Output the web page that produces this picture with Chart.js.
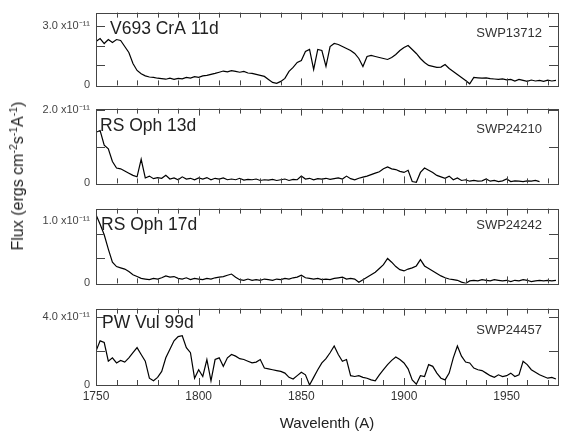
<!DOCTYPE html>
<html>
<head>
<meta charset="utf-8">
<script src="https://cdn.jsdelivr.net/npm/chart.js@4.4.0/dist/chart.umd.min.js"></script>
<style>
    html, body { margin: 0; padding: 0; background: #fff; }
    #wrap { position: relative; width: 561px; height: 436px; overflow: hidden; background: #fff; }
    #wrap canvas { position: absolute; left: 0; }
    #ytitle {
        position: absolute; left: 18px; top: 176px;
        transform: translate(-50%, -50%) rotate(-90deg);
        white-space: nowrap; color: #222;
        font: 16px "Liberation Sans", Arial, sans-serif;
    }
    #ytitle sup { font-size: 10.5px; line-height: 0; vertical-align: 6px; }
</style>
</head>
<body>
<div id="wrap">
    <canvas id="p0" width="561" height="98" style="top:0px"></canvas>
    <canvas id="p1" width="561" height="100" style="top:96px"></canvas>
    <canvas id="p2" width="561" height="100" style="top:196px"></canvas>
    <canvas id="p3" width="561" height="140" style="top:296px"></canvas>
    <div id="ytitle">Flux (ergs cm<sup>-2</sup>s<sup>-1</sup>A<sup>-1</sup>)</div>
</div>
<script>
// --- Data (flux in units of 1e-11) ---
const wavelength = [
    1750, 1752, 1754, 1756, 1758, 1760, 1762, 1764, 1766, 1768,
    1770, 1772, 1774, 1776, 1778, 1780, 1782, 1784, 1786, 1788,
    1790, 1792, 1794, 1796, 1798, 1800, 1802, 1804, 1806, 1808,
    1810, 1812, 1814, 1816, 1818, 1820, 1822, 1824, 1826, 1828,
    1830, 1832, 1834, 1836, 1838, 1840, 1842, 1844, 1846, 1848,
    1850, 1852, 1854, 1856, 1858, 1860, 1862, 1864, 1866, 1868,
    1870, 1872, 1874, 1876, 1878, 1880, 1882, 1884, 1886, 1888,
    1890, 1892, 1894, 1896, 1898, 1900, 1902, 1904, 1906, 1908,
    1910, 1912, 1914, 1916, 1918, 1920, 1922, 1924, 1926, 1928,
    1930, 1932, 1934, 1936, 1938, 1940, 1942, 1944, 1946, 1948,
    1950, 1952, 1954, 1956, 1958, 1960, 1962, 1964, 1966, 1968,
    1970, 1972, 1974
];

const fluxV693 = [
    2.2, 2.35, 2.1, 2.3, 2.15, 2.3, 2.25, 1.95, 1.65, 1.1,
    0.75, 0.58, 0.48, 0.42, 0.4, 0.36, 0.34, 0.31, 0.36, 0.3,
    0.35, 0.33, 0.4, 0.37, 0.44, 0.4, 0.48, 0.5, 0.55, 0.6,
    0.66, 0.72, 0.68, 0.74, 0.7, 0.66, 0.7, 0.62, 0.6, 0.55,
    0.5, 0.45, 0.3, 0.15, 0.1, 0.2, 0.35, 0.7, 0.9, 1.15,
    1.25, 1.7, 1.8, 0.8, 1.8, 1.75, 0.95, 1.95, 2.1, 2.05,
    1.95, 1.85, 1.75, 1.6, 1.35, 0.95, 1.45, 1.5, 1.45, 1.4,
    1.35, 1.3, 1.4, 1.55, 1.75, 1.9, 2.0, 1.8, 1.6, 1.35,
    1.15, 1.0, 0.95, 0.9, 0.92, 1.05, 0.85, 0.7, 0.55, 0.4,
    0.25, 0.08, 0.4, 0.38, 0.36, 0.38, 0.34, 0.32, 0.3, 0.33,
    0.28, 0.3, 0.22, 0.3, 0.25, 0.2, 0.27, 0.22, 0.25, 0.2,
    0.26, 0.22, 0.25
];

const fluxRSOph13 = [
    1.4, 1.45, 1.05, 0.95, 0.6, 0.42, 0.4, 0.34, 0.28, 0.22,
    0.18, 0.66, 0.15, 0.2, 0.13, 0.16, 0.14, 0.22, 0.12, 0.15,
    0.1, 0.18, 0.12, 0.14, 0.1, 0.15, 0.12, 0.16, 0.1, 0.14,
    0.12, 0.15, 0.1, 0.12, 0.1, 0.14, 0.09, 0.11, 0.1, 0.12,
    0.08, 0.1, 0.09, 0.11, 0.08, 0.1, 0.12, 0.08, 0.11, 0.1,
    0.2, 0.12, 0.14, 0.1, 0.13, 0.12, 0.14, 0.11, 0.13, 0.15,
    0.12, 0.2, 0.13, 0.1, 0.14, 0.17, 0.2, 0.24, 0.28, 0.32,
    0.4, 0.45, 0.4, 0.38, 0.33, 0.3, 0.36, 0.05, 0.03, 0.3,
    0.42, 0.36, 0.3, 0.22, 0.18, 0.14, 0.2, 0.1, 0.15, 0.08,
    0.1, 0.06, 0.08, 0.06, 0.07, 0.12, 0.06, 0.08, 0.05, 0.07,
    0.12, 0.05, 0.07, 0.06, 0.05, 0.07, 0.06, 0.08, 0.05, null,
    null, null, null
];

const fluxRSOph17 = [
    1.1, 0.95, 0.78, 0.55, 0.34, 0.27, 0.25, 0.23, 0.19, 0.14,
    0.11, 0.08, 0.07, 0.06, 0.08, 0.07, 0.09, 0.12, 0.1, 0.11,
    0.08, 0.07, 0.09, 0.06, 0.08, 0.07, 0.06, 0.08, 0.07, 0.09,
    0.1, 0.11, 0.13, 0.15, 0.1, 0.06, 0.05, 0.07, 0.05, 0.06,
    0.05, 0.07, 0.06, 0.05, 0.07, 0.06, 0.08, 0.07, 0.09, 0.1,
    0.13, 0.09, 0.08, 0.07, 0.08, 0.06, 0.07, 0.06, 0.08, 0.09,
    0.1, 0.07, 0.08, 0.07, 0.02, 0.06, 0.1, 0.14, 0.18, 0.24,
    0.3, 0.4, 0.34, 0.27, 0.22, 0.2, 0.23, 0.25, 0.28, 0.38,
    0.28, 0.24, 0.2, 0.16, 0.12, 0.09, 0.07, 0.06, 0.05, 0.02,
    0.0, 0.04, 0.05, 0.04, 0.06, 0.05, 0.04, 0.06, 0.05, 0.04,
    0.05, 0.03, 0.05, 0.04, 0.06, 0.05, 0.03, 0.04, 0.05, 0.04,
    0.05, 0.04, 0.05
];

const fluxPWVul = [
    2.0, 2.6, 2.5, 1.4, 1.6, 1.3, 1.45, 1.35, 1.6, 1.9,
    2.2, 1.8, 1.4, 0.4, 0.25, 0.45, 0.8, 1.6, 2.1, 2.6,
    2.85, 2.9, 2.2, 1.9, 0.4, 0.9, 0.5, 1.5, 0.25, 1.5,
    1.6, 1.1, 1.6, 1.8, 1.7, 1.55, 1.5, 1.4, 1.3, 1.35,
    1.5, 1.0, 0.95, 0.9, 0.85, 0.8, 0.7, 0.45, 0.35, 0.55,
    0.75, 0.6, 0.0, 0.45, 0.9, 1.3, 1.55, 1.9, 2.3, 1.8,
    1.4, 1.5, 0.55, 0.5, 0.55, 0.45, 0.4, 0.3, 0.25, 0.6,
    0.9, 1.2, 1.45, 1.65, 1.5, 1.3, 0.95, 0.3, 0.05, 0.55,
    0.5, 1.2, 1.1, 0.7, 0.4, 0.3, 0.7, 1.6, 2.3, 1.7,
    1.35, 1.3, 1.0, 0.9, 0.85, 0.7, 0.55, 0.45, 0.6, 0.5,
    0.55, 0.7, 0.5, 0.6, 1.4, 1.2, 0.9, 0.75, 0.6, 0.5,
    0.4, 0.45, 0.35
];

const panelSeries = [fluxV693, fluxRSOph13, fluxRSOph17, fluxPWVul];
const panelNames = ['V693 CrA 11d', 'RS Oph 13d', 'RS Oph 17d', 'PW Vul 99d'];
const panelCodes = ['SWP13712', 'SWP24210', 'SWP24242', 'SWP24457'];
const yMaxes = [3.65, 2.05, 1.2, 4.5];
const yLabelTops = [3.0, 2.0, 1.0, 4.0];
const yMarks = [[1, 2, 3], [1, 2], [0.4, 0.8], [2, 4]];
const xLabelTicks = [1750, 1800, 1850, 1900, 1950];
const xMarks = [1760, 1770, 1780, 1790, 1800, 1810, 1820, 1830, 1840, 1850,
                1860, 1870, 1880, 1890, 1900, 1910, 1920, 1930, 1940, 1950, 1960, 1970];

// --- Layout (canvas paddings per panel) ---
const padTops = [5, 8, 9, 8];
const padBottoms = [10, 10, 10, 0];
const nameDx = [14, 4, 5, 6];
const nameDy = [17, 18, 17, 15];
const codeDy = [21, 21, 17, 22];

Chart.defaults.font.family = '"Liberation Sans", Arial, sans-serif';
Chart.defaults.color = '#333';

// frame, inward ticks and panel labels
const panelDecor = {
    id: 'panelDecor',
    afterDatasetsDraw(chart, args, opts) {
        const { ctx, chartArea: a, scales: { x, y } } = chart;
        ctx.save();
        ctx.strokeStyle = '#444';
        ctx.lineWidth = 1;
        ctx.strokeRect(Math.round(a.left) + 0.5, Math.round(a.top) + 0.5,
            Math.round(a.right - a.left), Math.round(a.bottom - a.top));

        ctx.beginPath();
        xMarks.forEach(v => {
            const px = Math.round(x.getPixelForValue(v)) + 0.5;
            const len = v % 50 === 0 ? 7 : 5;
            ctx.moveTo(px, a.top); ctx.lineTo(px, a.top + len);
            ctx.moveTo(px, a.bottom); ctx.lineTo(px, a.bottom - len);
        });
        yMarks[opts.index].forEach(v => {
            const py = Math.round(y.getPixelForValue(v)) + 0.5;
            ctx.moveTo(a.left, py); ctx.lineTo(a.left + 9, py);
            ctx.moveTo(a.right, py); ctx.lineTo(a.right - 9, py);
        });
        ctx.stroke();

        ctx.fillStyle = '#222';
        ctx.textBaseline = 'middle';
        ctx.textAlign = 'left';
        ctx.font = '17.5px "Liberation Sans", Arial, sans-serif';
        ctx.fillText(panelNames[opts.index], a.left + nameDx[opts.index], a.top + nameDy[opts.index]);
        ctx.textAlign = 'right';
        ctx.font = '13px "Liberation Sans", Arial, sans-serif';
        ctx.fillStyle = '#333';
        ctx.fillText(panelCodes[opts.index], a.right - 16, a.top + codeDy[opts.index]);
        ctx.restore();
    }
};

function makePanel(i) {
    const isBottom = i === panelSeries.length - 1;
    const flux = panelSeries[i];
    new Chart(document.getElementById('p' + i), {
        type: 'line',
        data: {
            datasets: [{
                data: wavelength.map((w, k) => ({ x: w, y: flux[k] })),
                borderColor: '#000',
                borderWidth: 1.2,
                pointRadius: 0,
                tension: 0,
                spanGaps: false
            }]
        },
        options: {
            responsive: false,
            animation: false,
            layout: { padding: { top: padTops[i], bottom: padBottoms[i], left: 0, right: 3 } },
            plugins: {
                legend: { display: false },
                tooltip: { enabled: false },
                panelDecor: { index: i }
            },
            scales: {
                x: {
                    type: 'linear',
                    min: 1750,
                    max: 1975,
                    display: isBottom,
                    afterBuildTicks: s => { s.ticks = xLabelTicks.map(v => ({ value: v })); },
                    afterFit: s => { if (isBottom) s.height = 51; },
                    grid: { drawOnChartArea: false, drawTicks: false },
                    border: { display: false },
                    ticks: {
                        padding: 4,
                        autoSkip: false,
                        maxRotation: 0,
                        color: '#333',
                        font: { size: 12 },
                        callback: v => String(v)
                    },
                    title: {
                        display: true,
                        text: 'Wavelenth (A)',
                        color: '#222',
                        font: { size: 15 },
                        padding: { top: 0, bottom: 3 }
                    }
                },
                y: {
                    min: 0,
                    max: yMaxes[i],
                    afterBuildTicks: s => { s.ticks = [{ value: 0 }, { value: yLabelTops[i] }]; },
                    afterFit: s => { s.width = 96; },
                    grid: { drawOnChartArea: false, drawTicks: false },
                    border: { display: false },
                    ticks: {
                        padding: 6,
                        autoSkip: false,
                        color: '#444',
                        font: { size: 11 },
                        callback: v => v === 0 ? '0' : v.toFixed(1) + ' x10\u207B\u00B9\u00B9'
                    }
                }
            }
        },
        plugins: [panelDecor]
    });
}

for (let i = 0; i < panelSeries.length; i++) makePanel(i);
</script>
</body>
</html>
